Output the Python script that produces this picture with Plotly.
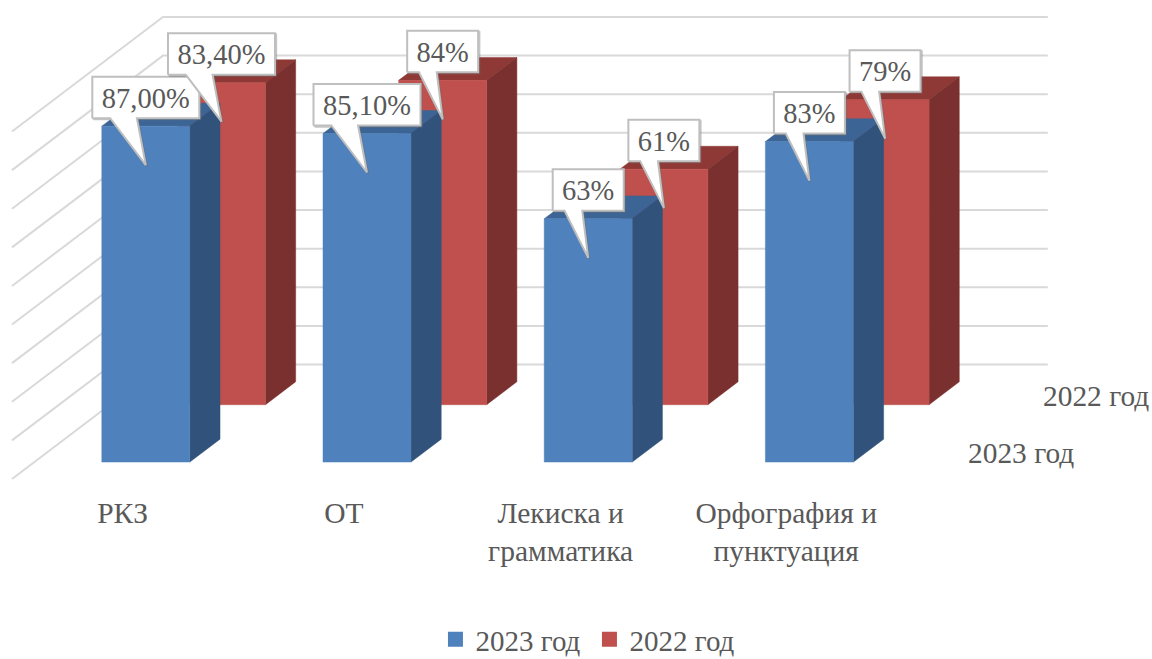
import plotly.graph_objects as go

categories = ["РКЗ", "ОТ", "Лекиска и<br>грамматика", "Орфография и<br>пунктуация"]
series_names = ["2023 год", "2022 год"]
values_2023 = [87.0, 85.1, 63.0, 83.0]
values_2022 = [83.4, 84.0, 61.0, 79.0]
labels_2023 = ["87,00%", "85,10%", "63%", "83%"]
labels_2022 = ["83,40%", "84%", "61%", "79%"]
grid_values = [0, 10, 20, 30, 40, 50, 60, 70, 80, 90]

FONT = "Liberation Serif"
TEXT = "#595959"
PX_X = 221.2      # px per category
PX_Y = 3.861      # px per percent
DX = 151 / PX_X   # wall depth in category units
DY = 114.5 / PX_Y # wall depth in percent units
BAR_W = 88 / PX_X
GAP = 0.305
DEPTH = 0.2
Z_2023, Z_2022 = 0.148, 0.649


def proj(cat_x, pct, z):
    return cat_x + z * DX, pct + z * DY


def poly(points):
    xs, ys = [], []
    for p in points:
        x, y = proj(*p)
        xs.append(x)
        ys.append(y)
    xs.append(xs[0])
    ys.append(ys[0])
    xs.append(None)
    ys.append(None)
    return xs, ys


def face_trace(xs, ys, color):
    return go.Scatter(x=xs, y=ys, mode="lines", fill="toself", fillcolor=color,
                      line=dict(color=color, width=0.5), hoverinfo="skip", showlegend=False)


def bar_traces(values, z, front, side, top):
    fx, fy, sx, sy, tx, ty = [], [], [], [], [], []
    for i, v in enumerate(values):
        l, r = i + GAP, i + GAP + BAR_W
        b = z + DEPTH
        a, c = poly([(l, 0, z), (r, 0, z), (r, v, z), (l, v, z)])
        fx += a; fy += c
        a, c = poly([(r, 0, z), (r, 0, b), (r, v, b), (r, v, z)])
        sx += a; sy += c
        a, c = poly([(l, v, z), (r, v, z), (r, v, b), (l, v, b)])
        tx += a; ty += c
    return [face_trace(tx, ty, top), face_trace(sx, sy, side), face_trace(fx, fy, front)]


def callout_traces(values, labels, z):
    xs, ys, cx, cy = [], [], [], []
    for i, (v, lab) in enumerate(zip(values, labels)):
        mid, yv = proj(i + GAP + BAR_W / 2, v, z)
        w = (107 if len(lab) > 3 else 71) / PX_X
        l, r = mid - w / 2, mid + w / 2
        bot = yv + 8 / PX_Y
        topv = yv + 49.5 / PX_Y
        tip = yv - 39 / PX_Y
        xs += [l, l + w / 6, mid, l + w * 5 / 12, r, r, l, l, None]
        ys += [bot, bot, tip, bot, bot, topv, topv, bot, None]
        cx.append(mid)
        cy.append((bot + topv) / 2 - 3 / PX_Y)
    sx = [None if a is None else a + 1.2 / PX_X for a in xs]
    sy = [None if a is None else a - 1.2 / PX_Y for a in ys]
    return [
        go.Scatter(x=sx, y=sy, mode="lines", line=dict(color="rgba(110,110,110,0.4)", width=2),
                   hoverinfo="skip", showlegend=False),
        go.Scatter(x=xs, y=ys, mode="lines", fill="toself", fillcolor="white",
                   line=dict(color="#bfbfbf", width=2), hoverinfo="skip", showlegend=False),
        go.Scatter(x=cx, y=cy, mode="text", text=labels, textposition="middle center",
                   textfont=dict(family=FONT, size=28.5, color=TEXT),
                   hoverinfo="skip", showlegend=False),
    ]


fig = go.Figure()

# walls
gx, gy = [], []
for g in grid_values:
    x0, y0 = proj(0, g, 0)
    x1, y1 = proj(0, g, 1)
    x2, y2 = proj(4, g, 1)
    gx += [x0, x1, x2, None]
    gy += [y0, y1, y2, None]
fig.add_trace(go.Scatter(x=gx, y=gy, mode="lines", line=dict(color="#d9d9d9", width=2),
                         hoverinfo="skip", showlegend=False))

for t in bar_traces(values_2022, Z_2022, "#c0504d", "#7a302e", "#8f3937"):
    fig.add_trace(t)
for t in bar_traces(values_2023, Z_2023, "#4f81bd", "#31527b", "#3c6595"):
    fig.add_trace(t)
for t in callout_traces(values_2023, labels_2023, Z_2023):
    fig.add_trace(t)
for t in callout_traces(values_2022, labels_2022, Z_2022):
    fig.add_trace(t)

for name, color in zip(series_names, ["#4f81bd", "#c0504d"]):
    fig.add_trace(go.Scatter(x=[None], y=[None], mode="markers", name=name,
                             marker=dict(symbol="square", size=15, color=color)))

x_lo = -12 / PX_X
x_hi = 1140 / PX_X
y_lo = -1 / PX_Y
y_hi = 479 / PX_Y

fig.add_annotation(x=(1021 - 12) / PX_X, y=(479 - 453) / PX_Y, text=series_names[0], showarrow=False,
                   font=dict(family=FONT, size=29.4, color=TEXT))
fig.add_annotation(x=(1096 - 12) / PX_X, y=(479 - 396) / PX_Y, text=series_names[1], showarrow=False,
                   font=dict(family=FONT, size=29.4, color=TEXT))

fig.update_layout(
    width=1152, height=659,
    margin=dict(l=0, r=0, t=0, b=179, autoexpand=False),
    paper_bgcolor="white", plot_bgcolor="white",
    font=dict(family=FONT, size=28, color=TEXT),
    xaxis=dict(range=[x_lo, x_hi], tickmode="array",
               tickvals=[0.5, 1.5, 2.48, 3.5], ticktext=categories,
               showgrid=False, zeroline=False, showline=False, ticks="",
               ticklabelstandoff=12, tickangle=0,
               tickfont=dict(family=FONT, size=29.5, color=TEXT), fixedrange=True),
    yaxis=dict(range=[y_lo, y_hi], visible=False, fixedrange=True),
    legend=dict(orientation="h", xref="paper", yref="paper", xanchor="left", yanchor="bottom",
                x=0.378, y=-185 / 480, bgcolor="rgba(0,0,0,0)",
                font=dict(family=FONT, size=29, color=TEXT), itemwidth=30,
                entrywidth=109, entrywidthmode="pixels"),
    showlegend=True,
)

fig.write_html("out.html", config={"displayModeBar": False},
               post_script="document.body.style.margin='0';document.body.style.overflow='hidden';")
